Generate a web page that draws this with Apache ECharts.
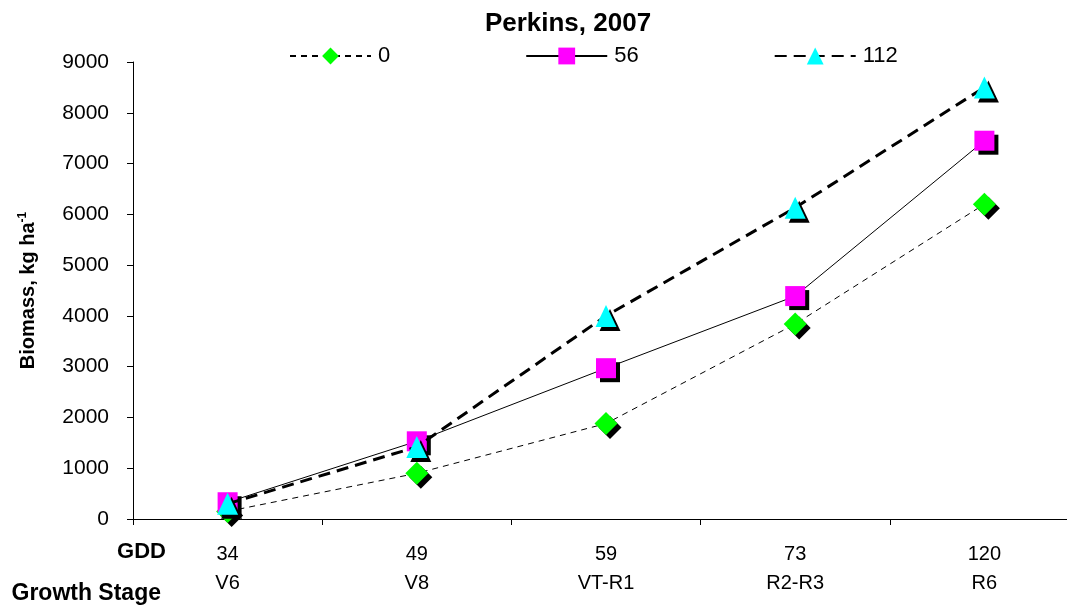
<!DOCTYPE html>
<html>
<head>
<meta charset="utf-8">
<title>Perkins, 2007</title>
<script src="https://cdn.jsdelivr.net/npm/echarts@6/dist/echarts.min.js"></script>
<style>
  html, body { margin: 0; padding: 0; background: #fff; overflow: hidden; width: 1067px; height: 607px; }
  /* the plot runs past the right edge of the page, so the canvas is a little wider than the window */
  #chart { width: 1079px; height: 607px; }
</style>
</head>
<body>
<div id="chart"></div>
<script>
// Growing degree days and growth stage at each sampling
const gdd = ['34', '49', '59', '73', '120'];
const stages = ['V6', 'V8', 'VT-R1', 'R2-R3', 'R6'];

// Biomass (kg ha-1) by N rate
const n0 = [150, 900, 1880, 3840, 6200];
const n56 = [330, 1530, 2970, 4390, 7450];
const n112 = [300, 1420, 4000, 6130, 8500];

// Y axis scale
const yMin = 0;
const yMax = 9000;
const yStep = 1000;

const FONT = 'Liberation Sans, Arial, Helvetica, sans-serif';

const categories = gdd.map((g, i) => g + '\n' + stages[i]);

const markerShadow = {
  shadowColor: '#000',
  shadowBlur: 0,
  shadowOffsetX: 4,
  shadowOffsetY: 4
};

const chart = echarts.init(document.getElementById('chart'), null, { renderer: 'canvas' });

chart.setOption({
  animation: false,
  backgroundColor: '#fff',
  textStyle: { fontFamily: FONT, color: '#000' },
  title: {
    text: 'Perkins, 2007',
    left: 563,
    textAlign: 'center',
    top: 6,
    textStyle: { fontFamily: FONT, fontWeight: 'bold', fontSize: 26, color: '#000' }
  },
  legend: {
    left: 289,
    top: 45,
    padding: 0,
    itemWidth: 81,
    itemHeight: 21,
    itemGap: 135,
    textStyle: { fontFamily: FONT, fontSize: 22, color: '#000', padding: [0, 0, 0, 2] },
    itemStyle: { shadowColor: 'transparent', shadowOffsetX: 0, shadowOffsetY: 0 },
    data: ['0', '56', '112']
  },
  grid: { left: 133, right: 0, top: 62, bottom: 88, containLabel: false },
  xAxis: {
    type: 'category',
    data: categories,
    boundaryGap: true,
    axisLine: { lineStyle: { color: '#000', width: 1.2 } },
    axisTick: { show: true, length: 6, inside: false, lineStyle: { color: '#000' } },
    axisLabel: {
      color: '#000',
      fontFamily: FONT,
      fontSize: 20,
      lineHeight: 29,
      margin: 21
    },
    splitLine: { show: false }
  },
  yAxis: {
    type: 'value',
    min: yMin,
    max: yMax,
    interval: yStep,
    name: 'Biomass, kg ha{sup|-1}',
    nameLocation: 'middle',
    nameGap: 94,
    nameRotate: 90,
    nameTextStyle: {
      fontFamily: FONT,
      fontWeight: 'bold',
      fontSize: 20,
      color: '#000',
      rich: {
        sup: { fontFamily: FONT, fontWeight: 'bold', fontSize: 12, verticalAlign: 'top', padding: [0, 0, 10, 0] }
      }
    },
    axisLine: { show: true, lineStyle: { color: '#000', width: 1 } },
    axisTick: { show: true, length: 6, lineStyle: { color: '#000' } },
    axisLabel: {
      color: '#000',
      fontFamily: FONT,
      fontSize: 21,
      margin: 24,
      formatter: (v) => String(v)
    },
    splitLine: { show: false }
  },
  graphic: [
    {
      type: 'text',
      right: 1079 - 166,
      top: 541,
      style: { text: 'GDD', font: 'bold 22px ' + FONT, fill: '#000' }
    },
    {
      type: 'text',
      right: 1079 - 161,
      top: 582,
      style: { text: 'Growth Stage', font: 'bold 23px ' + FONT, fill: '#000' }
    }
  ],
  series: [
    {
      name: '0',
      type: 'line',
      data: n0,
      symbol: 'diamond',
      symbolSize: 23,
      itemStyle: Object.assign({ color: '#00ff00' }, markerShadow),
      lineStyle: { color: '#000', width: 1, type: [6, 5] },
      z: 2
    },
    {
      name: '56',
      type: 'line',
      data: n56,
      symbol: 'rect',
      symbolSize: 20,
      itemStyle: Object.assign({ color: '#ff00ff' }, markerShadow),
      lineStyle: { color: '#000', width: 1, type: 'solid' },
      z: 3
    },
    {
      name: '112',
      type: 'line',
      data: n112,
      symbol: 'triangle',
      symbolSize: [21, 22],
      itemStyle: Object.assign({ color: '#00ffff' }, markerShadow),
      lineStyle: { color: '#000', width: 3, type: [12, 7] },
      z: 4
    }
  ]
});
</script>
</body>
</html>
